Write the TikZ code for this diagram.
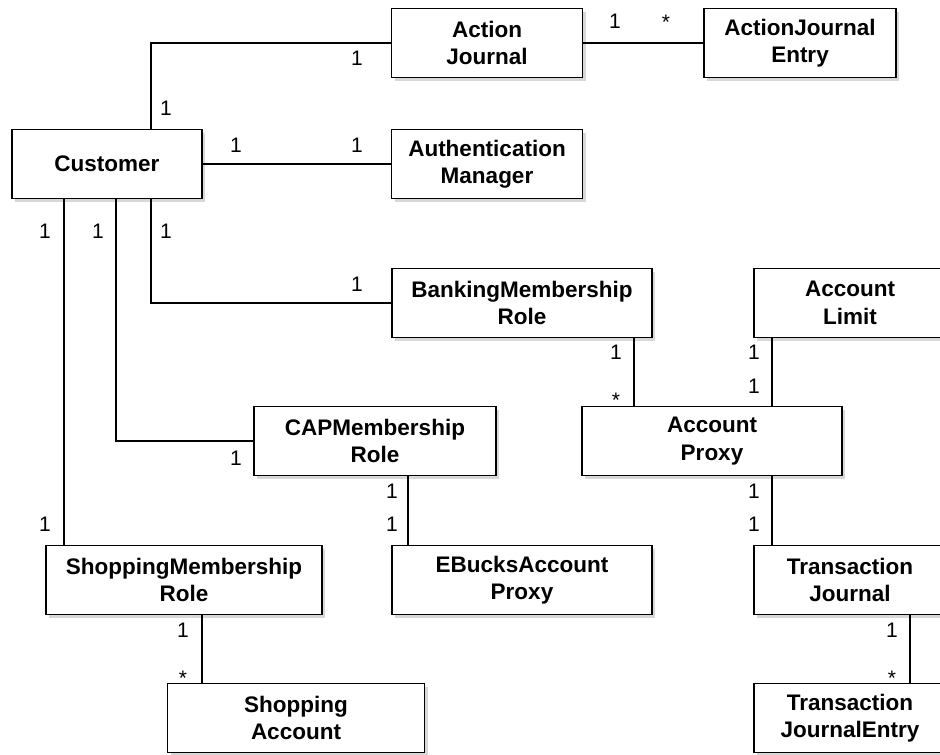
\documentclass[tikz,border=0pt]{standalone}
\usepackage{fontspec}
\setmainfont{Liberation Sans}
\usetikzlibrary{shadows}

\tikzset{
  cls/.style={draw, line width=1.3pt, fill=white, align=center, minimum height=69pt,
    font=\bfseries\fontsize{22.5}{27.5}\selectfont,
    drop shadow={shadow xshift=3pt, shadow yshift=-3pt, opacity=0.3}},
  mult/.style={font=\fontsize{21}{24}\selectfont, inner sep=0pt},
  assoc/.style={line width=1.2pt}
}

\begin{document}
\begin{tikzpicture}[x=1pt, y=-1pt]

\useasboundingbox[fill=white] (0,0) rectangle (940,755);

% classes
\node[cls, minimum width=191pt] (aj)   at (487,43)  {Action\\Journal};
\node[cls, minimum width=192pt] (aje)  at (800,43)  {ActionJournal\\Entry};
\node[cls, minimum width=190pt] (cust) at (107,164) {Customer};
\node[cls, minimum width=191pt] (auth) at (487,164) {Authentication\\Manager};
\node[cls, minimum width=260pt] (bmr)  at (522,303) {BankingMembership\\Role};
\node[cls, minimum width=192pt] (al)   at (850,303) {Account\\Limit};
\node[cls, minimum width=242pt] (cap)  at (375,441) {CAPMembership\\Role};
\node[cls, minimum width=260pt] (ap)   at (712,441) {Account\\Proxy};
\node[cls, minimum width=276pt] (smr)  at (184,580) {ShoppingMembership\\Role};
\node[cls, minimum width=260pt] (ebp)  at (522,580) {EBucksAccount\\Proxy};
\node[cls, minimum width=192pt] (tj)   at (850,580) {Transaction\\Journal};
\node[cls, minimum width=257pt] (sa)   at (296,718) {Shopping\\Account};
\node[cls, minimum width=192pt] (tje)  at (850,718) {Transaction\\JournalEntry};

% associations
\draw[assoc] ([xshift=44pt]cust.north) |- (aj.west);
\draw[assoc] (aj) -- (aje);
\draw[assoc] (cust) -- (auth);
\draw[assoc] ([xshift=44pt]cust.south) |- (bmr.west);
\draw[assoc] ([xshift=9pt]cust.south) |- (cap.west);
\draw[assoc] ([xshift=-43pt]cust.south) -- ([xshift=-43pt]cust.south |- smr.north);
\draw[assoc] ([xshift=112pt]bmr.south) -- ([xshift=112pt]bmr.south |- ap.north);
\draw[assoc] ([xshift=-78pt]al.south) -- ([xshift=-78pt]al.south |- ap.north);
\draw[assoc] ([xshift=33pt]cap.south) -- ([xshift=33pt]cap.south |- ebp.north);
\draw[assoc] ([xshift=60pt]ap.south) -- ([xshift=60pt]ap.south |- tj.north);
\draw[assoc] ([xshift=18pt]smr.south) -- ([xshift=18pt]smr.south |- sa.north);
\draw[assoc] ([xshift=60pt]tj.south) -- ([xshift=60pt]tj.south |- tje.north);

% multiplicities
\node[mult] (m1)  at (166,108) {1};
\node[mult] (m2)  at (357,58)  {1};
\node[mult] (m3)  at (615,21)  {1};
\node[mult] (m4)  at (666,22)  {*};
\node[mult] (m5)  at (236,145) {1};
\node[mult] (m6)  at (357,145) {1};
\node[mult] (m7)  at (45,231)  {1};
\node[mult] (m8)  at (98,231)  {1};
\node[mult] (m9)  at (166,231) {1};
\node[mult] (m10) at (357,284) {1};
\node[mult] (m11) at (236,458) {1};
\node[mult] (m12) at (45,524)  {1};
\node[mult] (m13) at (616,352) {1};
\node[mult] (m14) at (616,400) {*};
\node[mult] (m15) at (754,352) {1};
\node[mult] (m16) at (754,386) {1};
\node[mult] (m17) at (392,491) {1};
\node[mult] (m18) at (392,524) {1};
\node[mult] (m19) at (754,491) {1};
\node[mult] (m20) at (754,524) {1};
\node[mult] (m21) at (183,630) {1};
\node[mult] (m22) at (183,678) {*};
\node[mult] (m23) at (892,630) {1};
\node[mult] (m24) at (892,678) {*};

\end{tikzpicture}
\end{document}
